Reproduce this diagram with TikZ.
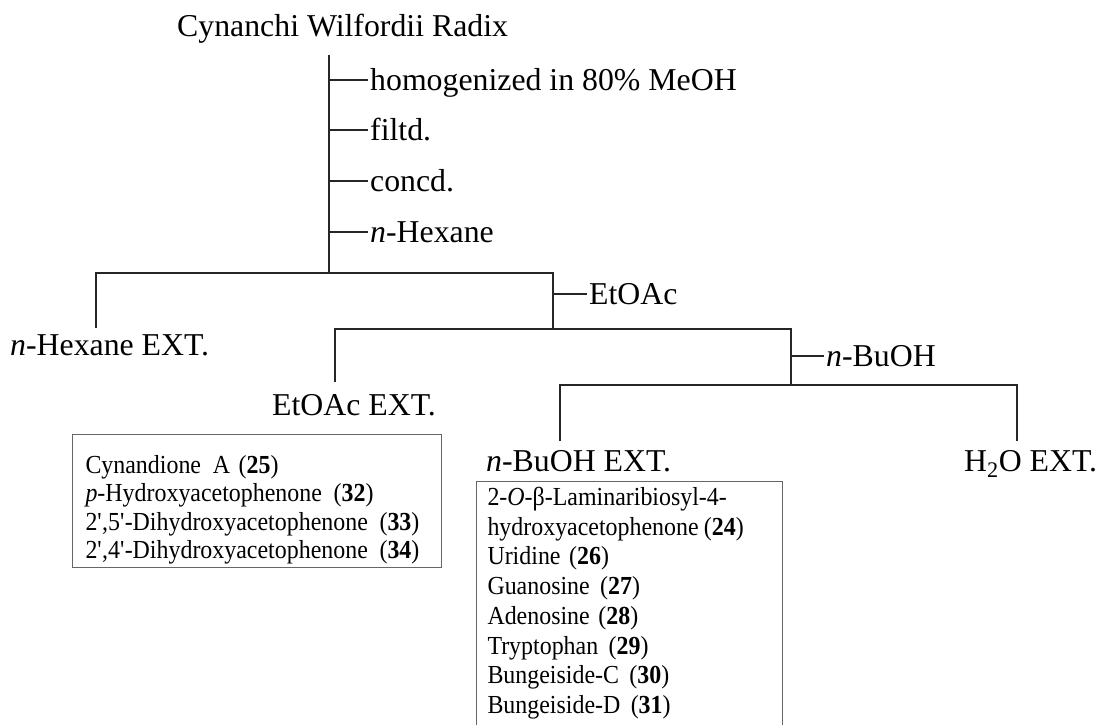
\documentclass[tikz,border=0pt]{standalone}
\usepackage{fontspec}
\setmainfont{Liberation Serif}
\newfontfamily\boxfont[FakeStretch=0.92]{Liberation Serif}
\begin{document}
\begin{tikzpicture}[x=1pt,y=-1pt,
  ln/.style={line width=1.3pt,black!85},
  lbl/.style={inner sep=0pt,anchor=base west,font=\fontsize{31.8}{38}\selectfont},
  boxt/.style={draw=black!60,line width=1pt,align=left,anchor=north west,inner ysep=0pt,
    font=\boxfont\fontsize{26}{28.3}\selectfont}]
\clip (0,0) rectangle (1106,725);
\fill[white] (0,0) rectangle (1106,725);
% title and steps
\node[lbl] (title) at (177,37) {Cynanchi Wilfordii Radix};
\coordinate (top) at (329,55);
\coordinate (j1) at (329,273);
\draw[ln] (top) -- (j1);
\node[lbl] (s1) at (370,90) {homogenized in 80\% MeOH};
\node[lbl] (s2) at (370,140) {filtd.};
\node[lbl] (s3) at (370,191) {concd.};
\node[lbl] (s4) at (370,242) {\textit{n}-Hexane};
\draw[ln] (329,80) -- (368,80);
\draw[ln] (329,130) -- (368,130);
\draw[ln] (329,181) -- (368,181);
\draw[ln] (329,232) -- (368,232);
% first split
\node[lbl] (hex) at (10,355) {\textit{n}-Hexane EXT.};
\coordinate (hL) at (96,273);
\coordinate (hR) at (553,273);
\coordinate (hLb) at (96,328);
\coordinate (hRb) at (553,329);
\draw[ln] (hLb) -- (hL) -- (hR) -- (hRb);
\node[lbl] (etoac) at (589,304) {EtOAc};
\coordinate (et) at (553,294);
\draw[ln] (et) -- (587,294);
% second split
\node[lbl] (etx) at (272,415) {EtOAc EXT.};
\coordinate (eL) at (335,329);
\coordinate (eR) at (791,329);
\coordinate (eLb) at (335,382);
\coordinate (eRb) at (791,385);
\draw[ln] (eLb) -- (eL) -- (eR) -- (eRb);
\node[lbl] (buoh) at (826,366) {\textit{n}-BuOH};
\coordinate (bu) at (791,356);
\draw[ln] (bu) -- (824,356);
% third split
\node[lbl] (bux) at (486,471) {\textit{n}-BuOH EXT.};
\node[lbl] (h2o) at (964,471) {H\textsubscript{2}O EXT.};
\coordinate (bL) at (560,385);
\coordinate (bR) at (1017,385);
\draw[ln] (560,441) -- (bL) -- (bR) -- (1017,441);
% boxes
\node[boxt,inner xsep=13pt,text width=343pt] (box1) at (72,434) {%
\rule{0pt}{39pt}Cynandione\hspace{0.45em}A (\textbf{25})\\
\textit{p}-Hydroxyacetophenone\hspace{0.45em}(\textbf{32})\\
2\textquotesingle,5\textquotesingle-Dihydroxyacetophenone\hspace{0.45em}(\textbf{33})\\
2\textquotesingle,4\textquotesingle-Dihydroxyacetophenone\hspace{0.45em}(\textbf{34})\rule[-9pt]{0pt}{9pt}};
\node[boxt,inner xsep=11pt,text width=284pt,font=\boxfont\fontsize{26}{29.7}\selectfont] (box2) at (476,481) {%
\rule{0pt}{24pt}2-\textit{O}-β-Laminaribiosyl-4-\\
hydroxyacetophenone\hspace{0.2em}(\textbf{24})\\
Uridine (\textbf{26})\\
Guanosine\hspace{0.4em}(\textbf{27})\\
Adenosine (\textbf{28})\\
Tryptophan\hspace{0.4em}(\textbf{29})\\
Bungeiside-C\hspace{0.4em}(\textbf{30})\\
Bungeiside-D\hspace{0.4em}(\textbf{31})\rule[-40pt]{0pt}{40pt}};
\end{tikzpicture}
\end{document}
